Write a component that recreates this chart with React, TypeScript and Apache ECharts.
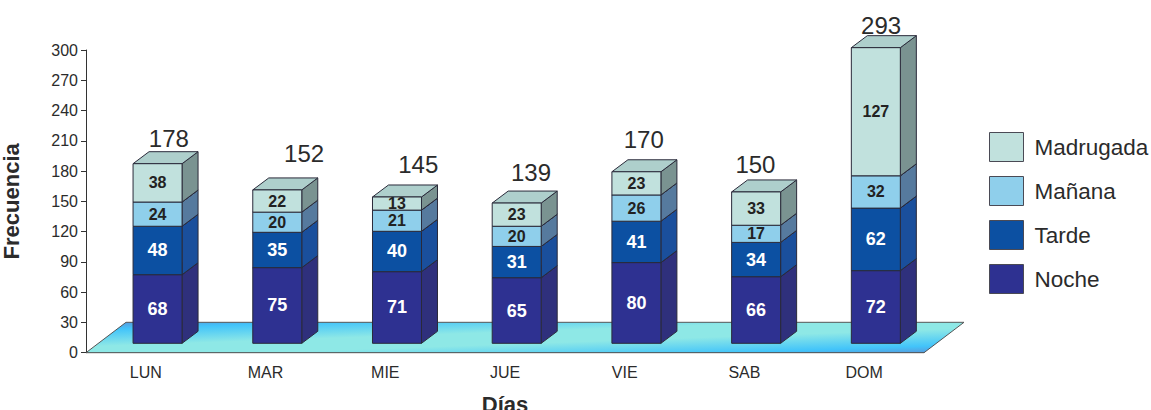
import React, { useEffect, useRef } from "react";
import * as echarts from "echarts";

const days = ["LUN", "MAR", "MIE", "JUE", "VIE", "SAB", "DOM"];
const noche = [68, 75, 71, 65, 80, 66, 72];
const tarde = [48, 35, 40, 31, 41, 34, 62];
const manana = [24, 20, 21, 20, 26, 17, 32];
const madrugada = [38, 22, 13, 23, 23, 33, 127];
const totals = [178, 152, 145, 139, 170, 150, 293];

// Where each total sits relative to the top of its stack, in pixels.
const totalShiftX = [23, 38.5, 33, 26, 19, 11, 17];
const totalShiftY = [-35, -46, -42, -39.5, -42, -37, -32];

const FONT = '"Liberation Sans", Arial, sans-serif';
const INK = "#2b2b2b";
const FRONT_SHIFT_X = 11.7;
const FRONT_SHIFT_Y = -9.4;
const DEPTH_X = 16;
const DEPTH_Y = -12;
const BAR_W = 49;
const FLOOR_X = 40;
const FLOOR_Y = -30.4;

const stacks = [
  { name: "Noche", values: noche, front: "#2e3191", side: "#2f307c", top: "#2f307c", label: "#ffffff", size: 18 },
  { name: "Tarde", values: tarde, front: "#0c50a2", side: "#1a4f9c", top: "#1a4f9c", label: "#ffffff", size: 18 },
  { name: "Mañana", values: manana, front: "#8fcfeb", side: "#567a9e", top: "#7fb5cc", label: "#222222", size: 16 },
  { name: "Madrugada", values: madrugada, front: "#c1e1dd", side: "#7a9391", top: "#aecfcc", label: "#222222", size: 16 },
];

function cumulative(index: number) {
  return days.map((_, i) => {
    let start = 0;
    for (let s = 0; s < index; s++) start += stacks[s].values[i];
    const value = stacks[index].values[i];
    return [i, start, start + value, value];
  });
}

export default function App() {
  const ref = useRef<HTMLDivElement>(null);

  useEffect(() => {
    const chart = echarts.init(ref.current!, undefined, { renderer: "svg" });

    const floorSeries = {
      type: "custom",
      name: "floor",
      silent: true,
      data: [[0, 0]],
      encode: { x: 0, y: 1 },
      z: 1,
      renderItem: (params: any, api: any) => {
        const g = params.coordSys;
        const y0 = g.y + g.height;
        const x0 = g.x;
        const x1 = g.x + g.width;
        return {
          type: "polygon",
          shape: {
            points: [
              [x0, y0],
              [x1, y0],
              [x1 + FLOOR_X, y0 + FLOOR_Y],
              [x0 + FLOOR_X, y0 + FLOOR_Y],
            ],
          },
          style: {
            fill: new echarts.graphic.LinearGradient(0, 0, 1, 1, [
              { offset: 0, color: "#5b93d8" },
              { offset: 0.13, color: "#42c4fa" },
              { offset: 0.4, color: "#8ee8e6" },
              { offset: 0.6, color: "#8ee8e6" },
              { offset: 0.87, color: "#42c4fa" },
              { offset: 1, color: "#5b93d8" },
            ]),
            stroke: "#555555",
            lineWidth: 1,
          },
        };
      },
    };

    const barSeries = stacks.map((stack, sIndex) => ({
      type: "custom",
      name: stack.name,
      silent: true,
      itemStyle: { color: stack.front },
      data: cumulative(sIndex),
      encode: { x: 0, y: [1, 2] },
      z: 2 + sIndex,
      renderItem: (_: any, api: any) => {
        const cat = api.value(0);
        const bottom = api.coord([cat, api.value(1)]);
        const top = api.coord([cat, api.value(2)]);
        const xl = bottom[0] + FRONT_SHIFT_X - BAR_W / 2;
        const xr = xl + BAR_W;
        const yb = bottom[1] + FRONT_SHIFT_Y;
        const yt = top[1] + FRONT_SHIFT_Y;
        const line = { stroke: "#2a2a3a", lineWidth: 1 };
        const children: any[] = [
          {
            type: "polygon",
            shape: {
              points: [
                [xr, yb],
                [xr + DEPTH_X, yb + DEPTH_Y],
                [xr + DEPTH_X, yt + DEPTH_Y],
                [xr, yt],
              ],
            },
            style: { fill: stack.side, ...line },
          },
          {
            type: "polygon",
            shape: {
              points: [
                [xl, yt],
                [xl + DEPTH_X, yt + DEPTH_Y],
                [xr + DEPTH_X, yt + DEPTH_Y],
                [xr, yt],
              ],
            },
            style: { fill: stack.top, ...line },
          },
          {
            type: "rect",
            shape: { x: xl, y: yt, width: BAR_W, height: yb - yt },
            style: { fill: stack.front, ...line },
          },
          {
            type: "text",
            style: {
              text: String(api.value(3)),
              x: (xl + xr) / 2,
              y: (yt + yb) / 2,
              align: "center",
              verticalAlign: "middle",
              fill: stack.label,
              font: `bold ${stack.size}px ${FONT}`,
            },
          },
        ];
        return { type: "group", children };
      },
    }));

    const totalSeries = {
      type: "custom",
      name: "totals",
      silent: true,
      data: totals.map((t, i) => [i, t]),
      encode: { x: 0, y: 1 },
      z: 10,
      renderItem: (params: any, api: any) => {
        const i = params.dataIndex;
        const p = api.coord([api.value(0), api.value(1)]);
        return {
          type: "text",
          style: {
            text: String(api.value(1)),
            x: p[0] + totalShiftX[i],
            y: p[1] + totalShiftY[i],
            align: "center",
            verticalAlign: "middle",
            fill: INK,
            font: `24px ${FONT}`,
          },
        };
      },
    };

    chart.setOption({
      animation: false,
      grid: { left: 86, top: 50, width: 838, height: 302.7, outerBoundsMode: "none" },
      legend: {
        orient: "vertical",
        left: 984,
        top: 127,
        itemWidth: 34,
        itemHeight: 29,
        itemGap: 14,
        icon: "rect",
        textStyle: { fontFamily: FONT, fontSize: 22.5, color: INK, padding: [0, 0, 0, 6] },
        selectedMode: false,
        data: [...stacks].reverse().map((s) => ({
          name: s.name,
          itemStyle: { color: s.front, borderColor: "#4a4a55", borderWidth: 1 },
        })),
      },
      xAxis: {
        type: "category",
        data: days,
        name: "Días",
        nameLocation: "middle",
        nameGap: 41,
        nameTextStyle: { fontFamily: FONT, fontSize: 22, fontWeight: "bold", color: INK },
        axisLine: { lineStyle: { color: "#333333", width: 1 } },
        axisTick: { alignWithLabel: false, length: 6, lineStyle: { color: "#333333" } },
        axisLabel: { fontFamily: FONT, fontSize: 16, color: INK, margin: 12 },
        splitLine: { show: false },
      },
      yAxis: {
        type: "value",
        min: 0,
        max: 300,
        interval: 30,
        name: "Frecuencia",
        nameLocation: "middle",
        nameGap: 64,
        nameTextStyle: { fontFamily: FONT, fontSize: 22, fontWeight: "bold", color: INK },
        axisLine: { show: true, lineStyle: { color: "#333333", width: 1 } },
        axisTick: { show: true, length: 5, lineStyle: { color: "#333333" } },
        axisLabel: { fontFamily: FONT, fontSize: 16, color: INK, margin: 8 },
        splitLine: { show: false },
      },
      series: [floorSeries, ...barSeries, totalSeries],
    });

    return () => chart.dispose();
  }, []);

  return (
    <div
      ref={ref}
      style={{ position: "fixed", left: 0, top: 0, width: 1151, height: 410, background: "#ffffff" }}
    />
  );
}
